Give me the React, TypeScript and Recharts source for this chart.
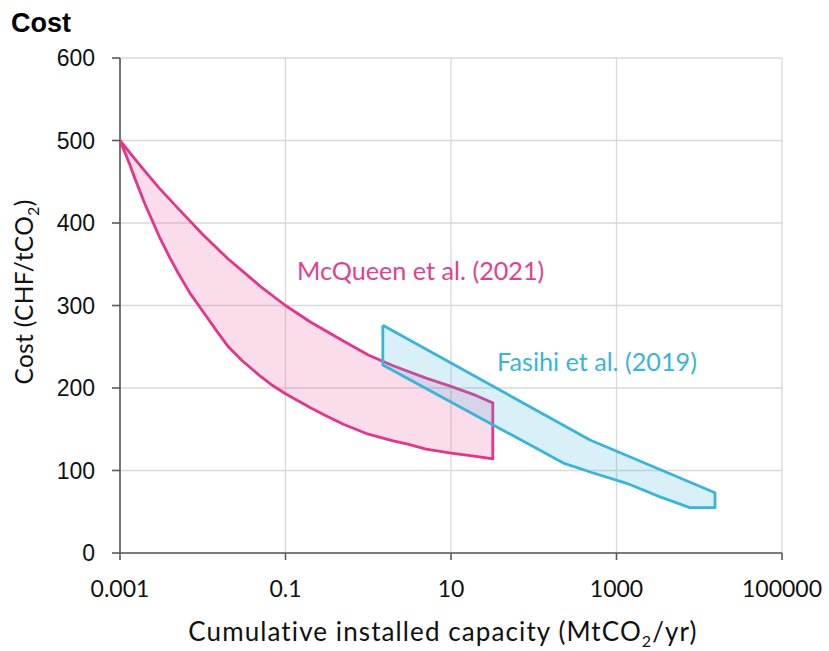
import React from "react";
import {
  CartesianGrid,
  Scatter,
  ScatterChart,
  XAxis,
  YAxis,
} from "recharts";

// McQueen et al. (2021) band: upper and lower edge
const mcqueenUpperX = [0.001, 0.0015, 0.002, 0.003, 0.005, 0.01, 0.02, 0.03, 0.05, 0.1, 0.2, 0.5, 1, 2, 5, 10, 20, 32];
const mcqueenUpper = [500, 478, 463, 442, 418, 386, 357, 342, 323, 300, 280, 257, 240, 227, 212, 202, 191, 182];
const mcqueenLowerX = [0.001, 0.0013, 0.0015, 0.002, 0.003, 0.004, 0.005, 0.007, 0.01, 0.015, 0.02, 0.03, 0.05, 0.07, 0.1, 0.2, 0.3, 0.5, 1, 2, 3, 5, 10, 20, 32];
const mcqueenLower = [500, 472, 455, 423, 383, 358, 340, 315, 293, 268, 251, 233, 214, 203, 193, 176, 167, 156, 144, 136, 132, 126, 121, 117, 114];

// Fasihi et al. (2019) band
const fasihiUpperX = [1.5, 479, 15500];
const fasihiUpper = [276, 137, 73];
const fasihiLowerX = [1.5, 228, 525, 1330, 3360, 7700, 15500];
const fasihiLower = [228, 109, 97, 84.5, 68, 55, 55];

const xTicks = [0.001, 0.1, 10, 1000, 100000];
const yTicks = [0, 100, 200, 300, 400, 500, 600];

const PINK = "#e2368a";
const BLUE = "#3bb4dc";

// closed outline: upper edge left->right, lower edge right->left, back to start
function polygon(ux: number[], uy: number[], lx: number[], ly: number[]) {
  const pts = ux.map((x, i) => ({ x, y: uy[i] }));
  for (let i = lx.length - 1; i >= 0; i--) pts.push({ x: lx[i], y: ly[i] });
  pts.push(pts[0]);
  return pts;
}

const mcqueenData = polygon(mcqueenUpperX, mcqueenUpper, mcqueenLowerX, mcqueenLower);
const fasihiData = polygon(fasihiUpperX, fasihiUpper, fasihiLowerX, fasihiLower);

const noDot = () => <g />;

const calibri = "Lato, 'Open Sans', sans-serif";
const arial = "'Liberation Sans', Arial, sans-serif";

export default function App() {
  return (
    <div style={{ position: "absolute", left: 0, top: 0, width: 829, height: 651, background: "#fff" }}>
      <ScatterChart
        width={829}
        height={651}
        margin={{ top: 58, right: 47, bottom: 58, left: 60 }}
      >
        <CartesianGrid stroke="#d9d9d9" strokeWidth={1.3} />
        <XAxis
          type="number"
          dataKey="x"
          scale="log"
          domain={[0.001, 100000]}
          ticks={xTicks}
          allowDataOverflow
          height={40}
          stroke="#595959"
          strokeWidth={1.6}
          tickSize={7}
          tickMargin={21}
          tick={{ fill: "#111", fontSize: 23, fontFamily: calibri }}
          tickFormatter={(v: number) => String(v)}
        />
        <YAxis
          type="number"
          dataKey="y"
          domain={[0, 600]}
          ticks={yTicks}
          width={60}
          stroke="#595959"
          strokeWidth={1.6}
          tickSize={8}
          tickMargin={17}
          tick={{ fill: "#111", fontSize: 23, fontFamily: arial }}
        />
        <Scatter
          data={mcqueenData}
          fill={PINK}
          line={{ stroke: PINK, strokeWidth: 2.8, fill: "rgba(230,60,140,0.18)", strokeLinejoin: "round" }}
          lineType="joint"
          shape={noDot}
          isAnimationActive={false}
        />
        <Scatter
          data={fasihiData}
          fill={BLUE}
          line={{ stroke: BLUE, strokeWidth: 2.8, fill: "rgba(70,180,225,0.2)", strokeLinejoin: "round" }}
          lineType="joint"
          shape={noDot}
          isAnimationActive={false}
        />
      </ScatterChart>
      <svg
        width={829}
        height={651}
        style={{ position: "absolute", left: 0, top: 0, pointerEvents: "none" }}
      >
        <text x={11} y={32} fontFamily={arial} fontWeight="bold" fontSize={27} fill="#000">
          Cost
        </text>
        <text x={297} y={280} fontFamily={calibri} fontSize={25.2} fill="#e0428f">
          McQueen et al. (2021)
        </text>
        <text x={497} y={371} fontFamily={calibri} fontSize={25.2} fill="#3bb3dc">
          Fasihi et al. (2019)
        </text>
        <text
          x={443}
          y={641}
          textAnchor="middle"
          fontFamily={calibri}
          fontSize={26}
          letterSpacing={1.1}
          fill="#111"
        >
          Cumulative installed capacity (MtCO
          <tspan fontSize={16} dy={6}>2</tspan>
          <tspan dy={-6}>/yr)</tspan>
        </text>
        <text
          transform="translate(33,292) rotate(-90)"
          textAnchor="middle"
          fontFamily={calibri}
          fontSize={24.5}
          letterSpacing={0.3}
          fill="#111"
        >
          Cost (CHF/tCO
          <tspan fontSize={16} dy={6}>2</tspan>
          <tspan dy={-6}>)</tspan>
        </text>
      </svg>
    </div>
  );
}
